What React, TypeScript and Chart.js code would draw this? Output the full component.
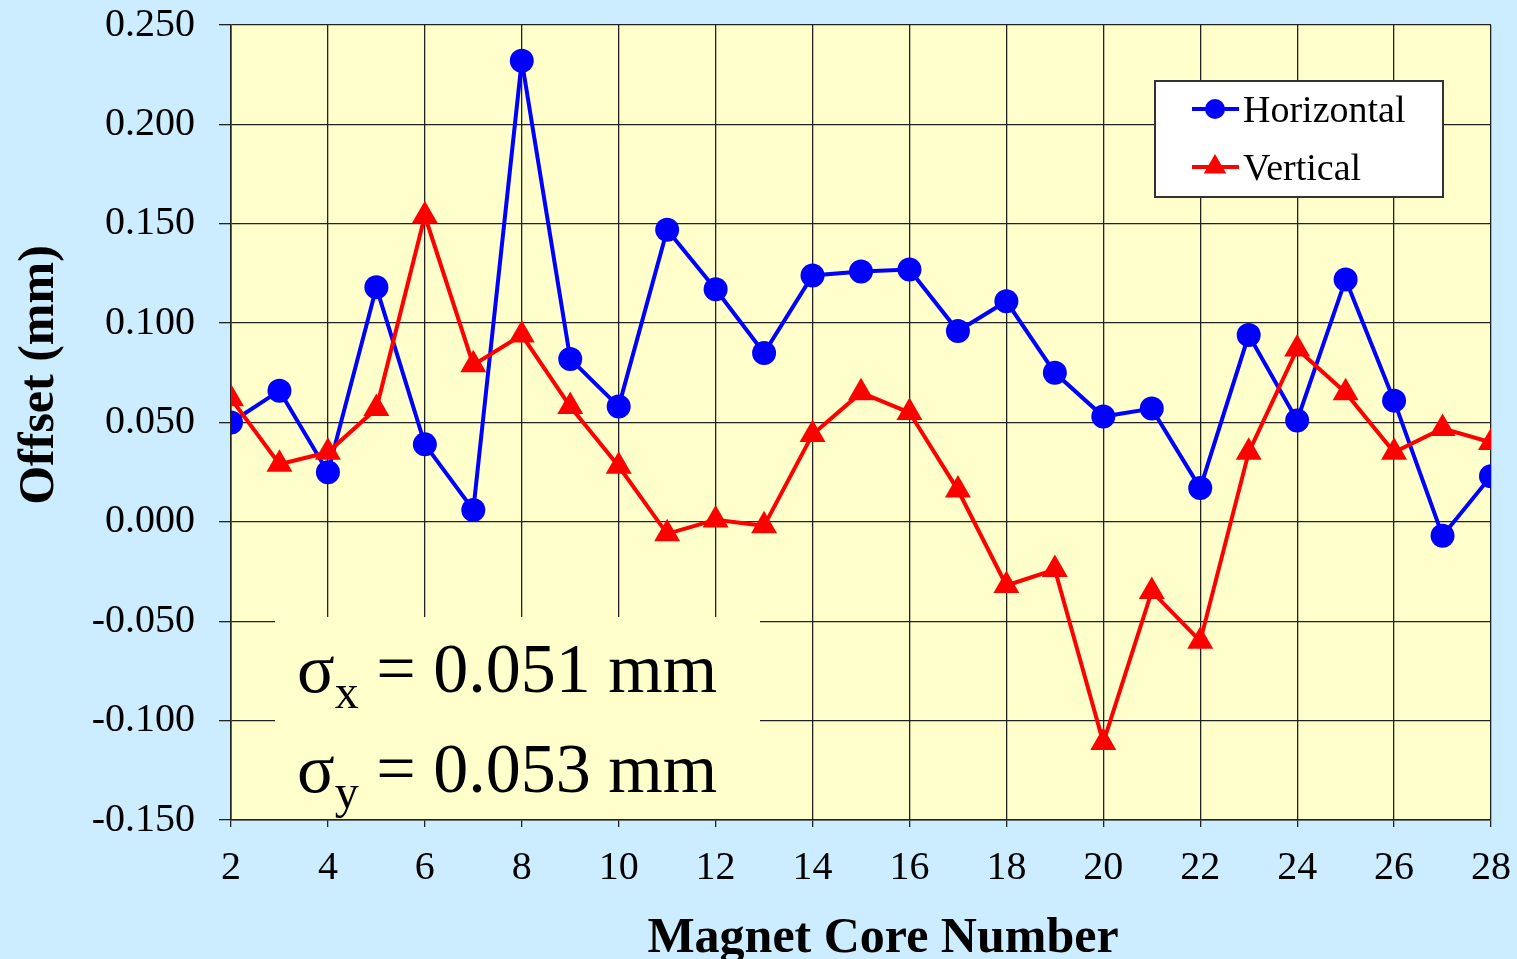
import React, { useEffect, useRef } from 'react';
import { Chart, registerables } from 'chart.js';

Chart.register(...registerables);

const coreNumbers = [2, 3, 4, 5, 6, 7, 8, 9, 10, 11, 12, 13, 14, 15, 16, 17, 18, 19, 20, 21, 22, 23, 24, 25, 26, 27, 28];
const horizontalOffsets = [0.050, 0.066, 0.025, 0.118, 0.039, 0.006, 0.232, 0.082, 0.058, 0.147, 0.117, 0.085, 0.124, 0.126, 0.127, 0.096, 0.111, 0.075, 0.053, 0.057, 0.017, 0.094, 0.051, 0.122, 0.061, -0.007, 0.023];
const verticalOffsets = [0.062, 0.029, 0.035, 0.057, 0.154, 0.079, 0.094, 0.058, 0.028, -0.006, 0.001, -0.002, 0.044, 0.065, 0.055, 0.016, -0.032, -0.024, -0.111, -0.035, -0.060, 0.035, 0.087, 0.065, 0.035, 0.047, 0.040];
const seriesLabels = ['Horizontal', 'Vertical'];
const seriesColors = ['#0000FF', '#FF0000'];
const sigmaSymbols = ['σ', 'σ'];
const sigmaSubscripts = ['x', 'y'];
const sigmaTexts = [' = 0.051 mm', ' = 0.053 mm'];
const xAxisTitle = 'Magnet Core Number';
const yAxisTitle = 'Offset (mm)';

const SERIF = "'Liberation Serif', 'Times New Roman', serif";
const PAGE_BG = '#CCECFF';
const PLOT_BG = '#FFFFCC';
const GRID = '#222222';

const backgroundPlugin = {
  id: 'plotBackground',
  beforeDraw(chart: any) {
    const { ctx, chartArea: ca } = chart;
    ctx.save();
    ctx.fillStyle = PLOT_BG;
    ctx.fillRect(ca.left, ca.top, ca.right - ca.left, ca.bottom - ca.top);
    ctx.restore();
  },
};

const sigmaPlugin = {
  id: 'sigmaBox',
  beforeDatasetsDraw(chart: any) {
    const { ctx, chartArea: ca } = chart;
    ctx.save();
    ctx.fillStyle = PLOT_BG;
    ctx.fillRect(ca.left + 44, ca.bottom - 203, 485, 202);
    ctx.fillStyle = '#000';
    ctx.textBaseline = 'alphabetic';
    ctx.textAlign = 'left';
    const baselines = [ca.bottom - 128, ca.bottom - 28];
    for (let i = 0; i < sigmaSymbols.length; i++) {
      let x = ca.left + 66;
      const y = baselines[i];
      ctx.font = `70px ${SERIF}`;
      ctx.fillText(sigmaSymbols[i], x, y);
      x += ctx.measureText(sigmaSymbols[i]).width;
      ctx.font = `48px ${SERIF}`;
      ctx.fillText(sigmaSubscripts[i], x, y + 16);
      x += ctx.measureText(sigmaSubscripts[i]).width;
      ctx.font = `70px ${SERIF}`;
      ctx.fillText(sigmaTexts[i], x, y);
    }
    ctx.restore();
  },
};

const axisTitlePlugin = {
  id: 'axisTitles',
  afterDraw(chart: any) {
    const { ctx, chartArea: ca } = chart;
    ctx.save();
    ctx.fillStyle = '#000';
    ctx.font = `bold 50px ${SERIF}`;
    ctx.textAlign = 'center';
    ctx.textBaseline = 'alphabetic';
    ctx.fillText(xAxisTitle, ca.left + 652, ca.bottom + 132);
    ctx.translate(53, ca.top + 350);
    ctx.rotate(-Math.PI / 2);
    ctx.fillText(yAxisTitle, 0, 0);
    ctx.restore();
  },
};

const legendPlugin = {
  id: 'boxLegend',
  afterDraw(chart: any) {
    const { ctx, chartArea: ca } = chart;
    const left = ca.right - 336;
    const top = ca.top + 56;
    const w = 288;
    const h = 116;
    ctx.save();
    ctx.fillStyle = '#FFFFFF';
    ctx.fillRect(left, top, w, h);
    ctx.strokeStyle = '#333333';
    ctx.lineWidth = 2;
    ctx.strokeRect(left, top, w, h);
    const rows = [top + 28, top + 86];
    chart.data.datasets.forEach((ds: any, i: number) => {
      const y = rows[i];
      const color = ds.borderColor;
      ctx.strokeStyle = color;
      ctx.fillStyle = color;
      ctx.lineWidth = 4;
      ctx.beginPath();
      ctx.moveTo(left + 37, y);
      ctx.lineTo(left + 84, y);
      ctx.stroke();
      const cx = left + 60;
      if (ds.pointStyle === 'triangle') {
        const r = 13;
        ctx.beginPath();
        ctx.moveTo(cx, y - r);
        ctx.lineTo(cx + r * 0.866, y + r / 2);
        ctx.lineTo(cx - r * 0.866, y + r / 2);
        ctx.closePath();
        ctx.fill();
      } else {
        ctx.beginPath();
        ctx.arc(cx, y, 10, 0, Math.PI * 2);
        ctx.fill();
      }
      ctx.fillStyle = '#000';
      ctx.font = `38px ${SERIF}`;
      ctx.textBaseline = 'alphabetic';
      ctx.textAlign = 'left';
      ctx.fillText(ds.label, left + 88, y + 13);
    });
    ctx.restore();
  },
};

function zeroPadding(scale: any) {
  scale.paddingTop = 0;
  scale.paddingBottom = 0;
  scale.paddingLeft = 0;
  scale.paddingRight = 0;
}

export default function App() {
  const canvasRef = useRef<HTMLCanvasElement | null>(null);

  useEffect(() => {
    document.body.style.margin = '0';
    const canvas = canvasRef.current;
    if (!canvas) return;
    const chart = new Chart(canvas, {
      type: 'line',
      data: {
        datasets: [
          {
            label: seriesLabels[0],
            data: coreNumbers.map((c, i) => ({ x: c, y: horizontalOffsets[i] })),
            borderColor: seriesColors[0],
            backgroundColor: seriesColors[0],
            borderWidth: 4,
            pointStyle: 'circle',
            pointRadius: 12,
            pointBorderWidth: 0,
            tension: 0,
            order: 1,
          },
          {
            label: seriesLabels[1],
            data: coreNumbers.map((c, i) => ({ x: c, y: verticalOffsets[i] })),
            borderColor: seriesColors[1],
            backgroundColor: seriesColors[1],
            borderWidth: 4,
            pointStyle: 'triangle',
            pointRadius: 15,
            pointBorderWidth: 0,
            tension: 0,
            order: 0,
          },
        ],
      },
      options: {
        responsive: false,
        animation: false,
        layout: { padding: { top: 25, right: 26, left: 0, bottom: 0 } },
        plugins: {
          legend: { display: false },
          tooltip: { enabled: false },
        },
        scales: {
          x: {
            type: 'linear',
            min: 2,
            max: 28,
            afterFit(scale: any) {
              scale.height = 139;
              zeroPadding(scale);
            },
            ticks: {
              stepSize: 2,
              color: '#000',
              padding: 17,
              font: { family: SERIF, size: 40 },
            },
            grid: { color: GRID, lineWidth: 1.3, tickLength: 7 },
            border: { color: GRID, width: 1.6 },
            title: { display: false },
          },
          y: {
            type: 'linear',
            min: -0.15,
            max: 0.25,
            afterFit(scale: any) {
              scale.width = 231;
              zeroPadding(scale);
            },
            ticks: {
              stepSize: 0.05,
              color: '#000',
              padding: 24,
              font: { family: SERIF, size: 40 },
              callback: (v: any) => {
                const n = Math.abs(Number(v)) < 1e-9 ? 0 : Number(v);
                return n.toFixed(3);
              },
            },
            grid: { color: GRID, lineWidth: 1.3, tickLength: 12 },
            border: { color: GRID, width: 1.6 },
            title: { display: false },
          },
        },
      },
      plugins: [backgroundPlugin, sigmaPlugin, axisTitlePlugin, legendPlugin],
    } as any);
    return () => {
      chart.destroy();
    };
  }, []);

  return (
    <div
      style={{
        position: 'fixed',
        left: 0,
        top: 0,
        width: 1517,
        height: 959,
        background: PAGE_BG,
        overflow: 'hidden',
      }}
    >
      <canvas ref={canvasRef} width={1517} height={959} style={{ display: 'block' }} />
    </div>
  );
}
